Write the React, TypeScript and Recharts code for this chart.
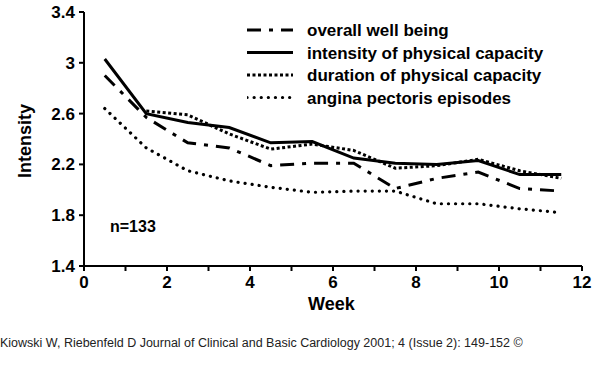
import { Line, LineChart, XAxis, YAxis } from "recharts";

const INK = "#000000";
const FONT = "'Liberation Sans', Arial, Helvetica, sans-serif";

// Weeks are measured at mid-week points; duration has no week-1 value.
const WEEKS = [0.5, 1.5, 2.5, 3.5, 4.5, 5.5, 6.5, 7.5, 8.5, 9.5, 10.5, 11.5];
const WELL_BEING = [2.9, 2.57, 2.37, 2.33, 2.19, 2.21, 2.21, 2.01, 2.09, 2.14, 2.01, 1.99];
const INTENSITY = [3.03, 2.6, 2.53, 2.49, 2.37, 2.38, 2.25, 2.21, 2.2, 2.23, 2.12, 2.12];
const DURATION = [null, 2.62, 2.59, 2.44, 2.32, 2.36, 2.31, 2.17, 2.19, 2.24, 2.15, 2.09];
const ANGINA = [2.64, 2.33, 2.15, 2.07, 2.02, 1.98, 1.99, 1.99, 1.89, 1.89, 1.85, 1.82];

const X_TICKS = [0, 1, 2, 3, 4, 5, 6, 7, 8, 9, 10, 11, 12];
const Y_TICKS = [1.4, 1.8, 2.2, 2.6, 3, 3.4];

const SERIES = [
  { key: "wellBeing", name: "overall well being", dash: "14 8 4 8", width: 3, cap: "butt" },
  { key: "intensity", name: "intensity of physical capacity", dash: undefined, width: 3, cap: "butt" },
  { key: "duration", name: "duration of physical capacity", dash: "3 2.5", width: 3, cap: "butt" },
  { key: "angina", name: "angina pectoris episodes", dash: "0.1 7", width: 3.2, cap: "round" },
] as const;

const data = WEEKS.map((week, i) => ({
  week,
  wellBeing: WELL_BEING[i],
  intensity: INTENSITY[i],
  duration: DURATION[i],
  angina: ANGINA[i],
}));

// Legend drawn as an overlay so it doesn't eat into the plot area.
function LegendBox() {
  return (
    <svg width={340} height={90} style={{ position: "absolute", left: 247, top: 22 }}>
      {SERIES.map((s, i) => {
        const y = 8 + i * 22.5;
        return (
          <g key={s.key}>
            <line x1={0} x2={46} y1={y} y2={y} stroke={INK} strokeWidth={s.width}
              strokeDasharray={s.dash} strokeLinecap={s.cap} />
            <text x={60} y={y} dy="0.36em" fontFamily={FONT} fontWeight="bold" fontSize={17} fill={INK}>
              {s.name}
            </text>
          </g>
        );
      })}
    </svg>
  );
}

const tickStyle = { fontSize: 17, fontWeight: "bold", fill: INK, fontFamily: FONT };

export default function App() {
  return (
    <div style={{ position: "absolute", left: 0, top: 0, width: 600, height: 391, background: "#fff" }}>
      <LineChart width={600} height={391} data={data} margin={{ top: 12, right: 18, bottom: 85, left: 0 }}>
        <XAxis
          dataKey="week"
          type="number"
          domain={[0, 12]}
          ticks={X_TICKS}
          tickFormatter={(v: number) => (v % 2 === 0 ? String(v) : "")}
          height={40}
          tick={tickStyle}
          tickSize={5}
          tickMargin={5}
          axisLine={{ stroke: INK, strokeWidth: 2 }}
          tickLine={{ stroke: INK, strokeWidth: 2 }}
        />
        <YAxis
          type="number"
          domain={[1.4, 3.4]}
          ticks={Y_TICKS}
          width={84}
          tick={tickStyle}
          tickSize={5}
          tickMargin={4}
          axisLine={{ stroke: INK, strokeWidth: 2 }}
          tickLine={{ stroke: INK, strokeWidth: 2 }}
        />
        {SERIES.map((s) => (
          <Line
            key={s.key}
            dataKey={s.key}
            name={s.name}
            type="linear"
            stroke={INK}
            strokeWidth={s.width}
            strokeDasharray={s.dash}
            strokeLinecap={s.cap}
            dot={false}
            activeDot={false}
            isAnimationActive={false}
          />
        ))}
      </LineChart>
      <LegendBox />
      <div style={{ position: "absolute", left: 10, top: 131, width: 30, height: 20, fontFamily: FONT, fontWeight: "bold", fontSize: 18,
        transform: "rotate(-90deg)", transformOrigin: "center", display: "flex", justifyContent: "center", alignItems: "center" }}>
        <span style={{ whiteSpace: "nowrap" }}>Intensity</span>
      </div>
      <div style={{ position: "absolute", left: 308, top: 294, fontFamily: FONT, fontWeight: "bold", fontSize: 18 }}>Week</div>
      <div style={{ position: "absolute", left: 110, top: 218, fontFamily: FONT, fontSize: 16, fontWeight: 600 }}>n=133</div>
      <div style={{ position: "absolute", left: 0, top: 336, fontFamily: FONT, fontSize: 12.5, whiteSpace: "nowrap", color: "#222" }}>
        Kiowski W, Riebenfeld D Journal of Clinical and Basic Cardiology 2001; 4 (Issue 2): 149-152 ©
      </div>
    </div>
  );
}
